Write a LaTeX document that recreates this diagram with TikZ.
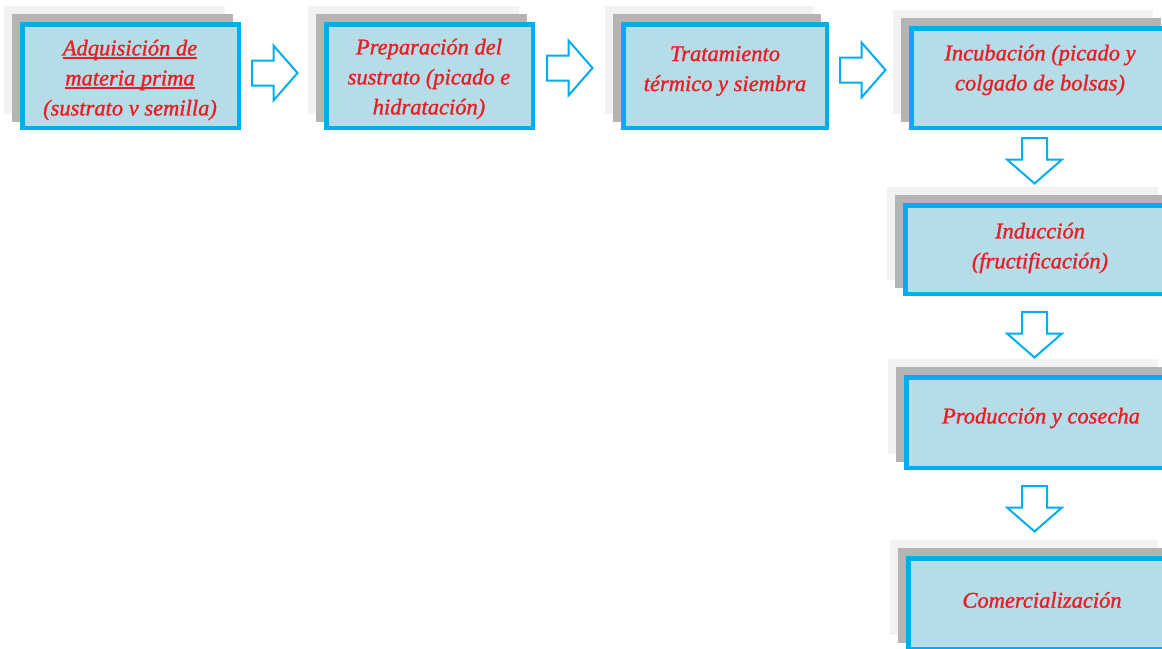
\documentclass[tikz,border=0pt]{standalone}
\usepackage{fontspec}
\setmainfont{Liberation Serif}
\newfontfamily\stepfont[FakeBold=1.2]{Liberation Serif}
\definecolor{cyanb}{HTML}{00AEEF}
\definecolor{fillb}{HTML}{B5DDE7}
\definecolor{gl}{HTML}{F2F2F2}
\definecolor{gd}{HTML}{B4B4B4}
\definecolor{txt}{HTML}{ED1C24}
\tikzset{
  lightback/.style={fill=gl},
  darkback/.style={fill=gd},
  bluebox/.style={draw=cyanb, fill=fillb, line width=4.5pt, rectangle, inner sep=0pt, outer sep=0pt},
  steptext/.style={text=txt, font=\stepfont\fontsize{22.5}{30}\selectfont\itshape, align=center, inner sep=0pt},
  arrowline/.style={draw=cyanb, fill=white, line width=2pt, line join=miter},
  blockarrow/.pic={\path[arrowline] (0,-12.5) -- (21.5,-12.5) -- (21.5,-27.5) -- (45.5,0) -- (21.5,27.5) -- (21.5,12.5) -- (0,12.5) -- cycle;}
}
\newcommand\stackbox[5]{%
  \fill[lightback] (#2,#3) rectangle ++(#4,#5);
  \fill[darkback] (#2+8,#3+8) rectangle ++(#4,#5);
  \node[bluebox, minimum width=#4-4.5pt, minimum height=#5-4.5pt, anchor=north west] (#1) at (#2+16+2.25,#3+16+2.25) {};
}
\newsavebox\ulbox
\newcommand\redul[1]{\sbox\ulbox{#1}\leavevmode\rlap{\color{txt}\rule[-3.5pt]{\wd\ulbox}{1.6pt}}\usebox\ulbox}
\begin{document}
\begin{tikzpicture}[x=1pt,y=-1pt]
\useasboundingbox (0,0) rectangle (1162,648);
\clip (0,0) rectangle (1162,648);
\stackbox{b1}{4}{6}{221}{108}
\stackbox{b2}{308}{6}{211}{108}
\stackbox{b3}{605}{6}{208}{108}
\stackbox{b4}{893}{10}{260}{104}
\stackbox{b5}{887}{187}{271}{93}
\stackbox{b6}{888}{359}{270}{95}
\stackbox{b7}{890}{540}{268}{95}
\node[steptext] (t1) at (130,80) {\redul{Adquisición de}\\\redul{materia prima}\\(sustrato v semilla)};
\node[steptext] (t2) at (429,79) {Preparación del\\sustrato (picado e\\hidratación)};
\node[steptext] (t3) at (725,71) {Tratamiento\\térmico y siembra};
\node[steptext] (t4) at (1040,70) {Incubación (picado y\\colgado de bolsas)};
\node[steptext] (t5) at (1040,248) {Inducción\\(fructificación)};
\node[steptext] (t6) at (1041,418) {Producción y cosecha};
\node[steptext] (t7) at (1042,600) {Comercialización};
\pic at (252,73) {blockarrow};
\pic at (547,68) {blockarrow};
\pic at (840,70) {blockarrow};
\pic[rotate=-90] at (1034.5,138) {blockarrow};
\pic[rotate=-90] at (1034.5,312) {blockarrow};
\pic[rotate=-90] at (1034.5,486) {blockarrow};
\end{tikzpicture}
\end{document}
